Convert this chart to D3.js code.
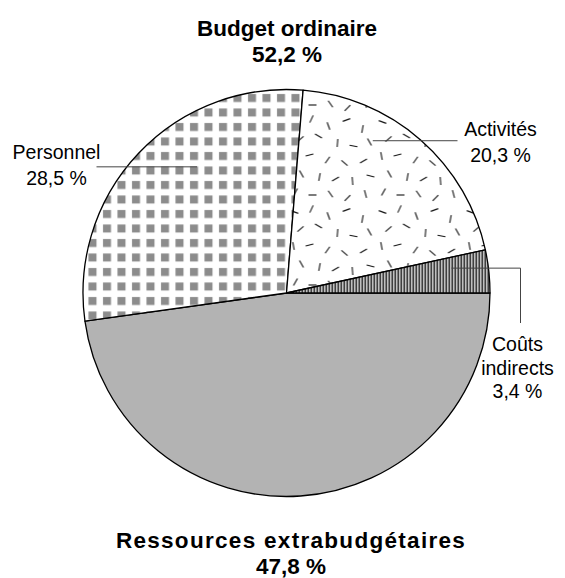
<!DOCTYPE html>
<html>
<head>
<meta charset="utf-8">
<script src="https://cdn.jsdelivr.net/npm/d3@7"></script>
<style>
  html, body { margin: 0; padding: 0; background: #fff; }
  svg { display: block; font-family: "Liberation Sans", Arial, Helvetica, sans-serif; }
</style>
</head>
<body>
<svg id="chart" width="565" height="578"></svg>
<script>
// Budget shares (%), drawn clockwise starting at 3 o'clock
const categories = ["Ressources extrabudgétaires", "Personnel", "Activités", "Coûts indirects"];
const shares = [47.8, 28.5, 20.3, 3.4];
const shareLabels = ["47,8 %", "28,5 %", "20,3 %", "3,4 %"];

// Group totals shown as headings
const groupNames = ["Budget ordinaire", "Ressources extrabudgétaires"];
const groupTotals = ["52,2 %", "47,8 %"];

const svg = d3.select("#chart");
const cx = 286.5, cy = 293, r = 203.5;

// ---- fill patterns ----
const defs = svg.append("defs");

// gray square grid
const pSq = defs.append("pattern").attr("id", "squares")
  .attr("patternUnits", "userSpaceOnUse").attr("width", 14.5).attr("height", 14.5)
  .attr("x", 2).attr("y", 1);
pSq.append("rect").attr("width", 14.5).attr("height", 14.5).attr("fill", "#fff");
pSq.append("rect").attr("x", 3).attr("y", 3).attr("width", 8).attr("height", 8).attr("fill", "#8c8c8c");

// scattered short dashes: [x, y, angle]
const dashes = [
  [5, 7, 20], [22, 4, 115], [39, 11, 70], [57, 5, 160], [73, 14, 100],
  [11, 24, 140], [29, 21, 30], [48, 28, 95], [64, 31, 10], [80, 27, 60],
  [4, 41, 80], [20, 40, 165], [38, 45, 125], [55, 48, 40], [74, 46, 150],
  [12, 59, 60], [30, 62, 100], [46, 64, 150], [63, 66, 85], [81, 61, 15],
  [6, 77, 120], [23, 80, 0], [41, 79, 55], [58, 83, 135], [76, 79, 75]
];
const pDash = defs.append("pattern").attr("id", "dashes")
  .attr("patternUnits", "userSpaceOnUse").attr("width", 88).attr("height", 90)
  .attr("x", 3).attr("y", 2);
pDash.append("rect").attr("width", 88).attr("height", 90).attr("fill", "#fff");
pDash.selectAll("line").data(dashes).join("line")
  .attr("x1", d => d[0] - 4 * Math.cos(d[2] * Math.PI / 180))
  .attr("y1", d => d[1] - 4 * Math.sin(d[2] * Math.PI / 180))
  .attr("x2", d => d[0] + 4 * Math.cos(d[2] * Math.PI / 180))
  .attr("y2", d => d[1] + 4 * Math.sin(d[2] * Math.PI / 180))
  .attr("stroke", "#111").attr("stroke-width", 1.1);

// vertical hatching
const pVert = defs.append("pattern").attr("id", "vlines")
  .attr("patternUnits", "userSpaceOnUse").attr("width", 3).attr("height", 10);
pVert.append("rect").attr("width", 3).attr("height", 10).attr("fill", "#fff");
pVert.append("rect").attr("x", 0).attr("width", 1.5).attr("height", 10).attr("fill", "#000");

const fills = ["#b3b3b3", "url(#squares)", "url(#dashes)", "url(#vlines)"];

// ---- pie ----
const pie = d3.pie().sort(null)
  .startAngle(Math.PI / 2).endAngle(Math.PI / 2 + 2 * Math.PI);
const arc = d3.arc().innerRadius(0).outerRadius(r);
const arcs = pie(shares);

const g = svg.append("g").attr("transform", `translate(${cx},${cy})`);
g.selectAll("path").data(arcs).join("path")
  .attr("d", arc)
  .attr("fill", (d, i) => fills[i])
  .attr("stroke", "#000").attr("stroke-width", 1.3)
  .attr("stroke-linejoin", "round");

// ---- slice labels with leader lines ----
// inner point: angle fraction within slice and radius fraction; then path to the label
const labelLayout = [
  null,
  { frac: 0.61, rad: 0.76, elbow: null, end: [-190, 0], text: [-230, -134], gap: 26 },
  { frac: 0.34, rad: 0.86, elbow: null, end: [171, 0], text: [214, -157], gap: 26 },
  { frac: 0.30, rad: 0.82, elbow: 234, end: [234, 30], text: [231, 58], gap: 23.5 }
];

arcs.forEach((d, i) => {
  const L = labelLayout[i];
  if (!L) return;
  const a = d.startAngle + (d.endAngle - d.startAngle) * L.frac;
  const p0 = [Math.sin(a) * r * L.rad, -Math.cos(a) * r * L.rad];
  const pts = L.elbow !== null
    ? [p0, [L.elbow, p0[1]], L.end]
    : [p0, [L.end[0], p0[1]]];
  g.append("path")
    .attr("d", d3.line()(pts))
    .attr("fill", "none").attr("stroke", "#444").attr("stroke-width", 1);

  const lines = (categories[i] === "Coûts indirects" ? ["Coûts", "indirects"] : [categories[i]])
    .concat([shareLabels[i]]);
  const t = g.append("text")
    .attr("text-anchor", "middle")
    .attr("font-size", 19.5)
    .attr("fill", "#000");
  lines.forEach((s, k) => {
    t.append("tspan").attr("x", L.text[0]).attr("y", L.text[1] + k * L.gap).text(s);
  });
});

// ---- group headings ----
const headPos = [[287, 36, 62, 0], [291, 548, 574, 1.3]];
groupNames.forEach((name, i) => {
  const t = svg.append("text")
    .attr("text-anchor", "middle")
    .attr("font-size", 22.5).attr("font-weight", "bold").attr("fill", "#000");
  t.append("tspan").attr("x", headPos[i][0]).attr("y", headPos[i][1])
    .attr("letter-spacing", headPos[i][3]).text(name);
  t.append("tspan").attr("x", headPos[i][0]).attr("y", headPos[i][2]).text(groupTotals[i]);
});
</script>
</body>
</html>
